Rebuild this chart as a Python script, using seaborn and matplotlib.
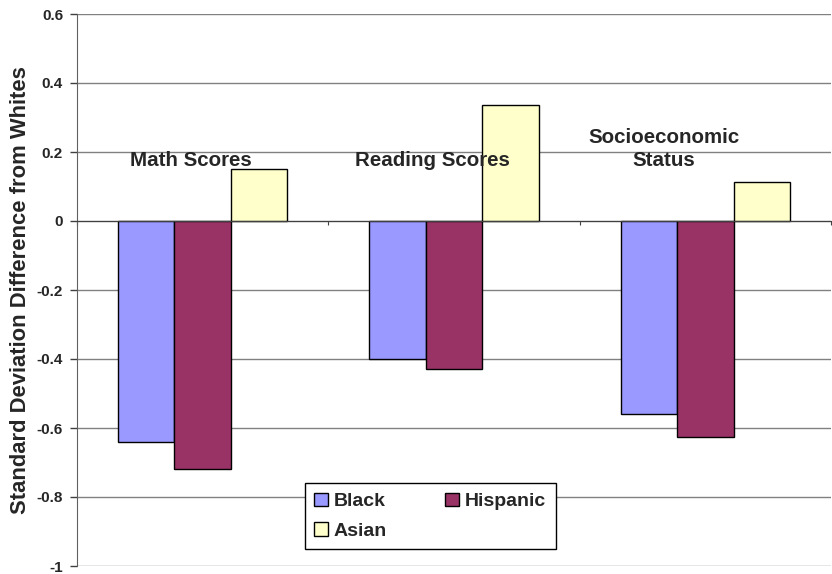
import pandas as pd
import matplotlib.pyplot as plt
import seaborn as sns

categories = ['Math Scores', 'Reading Scores', 'Socioeconomic\nStatus']
groups = ['Black', 'Hispanic', 'Asian']
black = [-0.64, -0.40, -0.56]
hispanic = [-0.72, -0.43, -0.625]
asian = [0.15, 0.335, 0.113]
yticks = [-1, -0.8, -0.6, -0.4, -0.2, 0, 0.2, 0.4, 0.6]
ytick_labels = ['-1', '-0.8', '-0.6', '-0.4', '-0.2', '0', '0.2', '0.4', '0.6']

rows = []
for i, c in enumerate(categories):
    rows.append((c, 'Black', black[i]))
    rows.append((c, 'Hispanic', hispanic[i]))
    rows.append((c, 'Asian', asian[i]))
df = pd.DataFrame(rows, columns=['category', 'group', 'value'])

sns.set_style('white')
plt.rcParams['font.family'] = ['Liberation Sans', 'DejaVu Sans']
plt.rcParams['font.weight'] = 'bold'

fig = plt.figure(figsize=(8.32, 5.74), dpi=100)
ax = fig.add_axes([77 / 832, 8 / 574, 754 / 832, 552 / 574])

sns.barplot(data=df, x='category', y='value', hue='group', order=categories,
            hue_order=groups, palette=['#9999FF', '#993366', '#FFFFCC'],
            saturation=1, width=0.675, edgecolor='black', linewidth=1,
            ax=ax, zorder=3)

ax.set_ylim(-1, 0.6)
ax.set_xlim(-0.5, 2.5)
ax.set_yticks(yticks)
ax.set_yticklabels(ytick_labels, fontsize=11, fontweight='bold')
ax.yaxis.grid(True, color='#808080', linewidth=1, zorder=0)
ax.set_axisbelow(True)
ax.tick_params(axis='y', direction='out', length=5, width=1, color='#404040', left=True, pad=5)

for s in ['top', 'right']:
    ax.spines[s].set_visible(False)
ax.spines['left'].set_color('#606060')
ax.spines['bottom'].set_position(('data', 0))
ax.spines['bottom'].set_color('#404040')
ax.spines['bottom'].set_zorder(4)
ax.set_xticks([-0.5, 0.5, 1.5, 2.5])
ax.set_xticklabels([])
ax.tick_params(axis='x', direction='out', length=3, color='#404040', bottom=True)
ax.set_xlabel('')
ax.set_ylabel('Standard Deviation Difference from Whites', fontsize=15.8,
              fontweight='bold', labelpad=4)

# category names sit inside the plot, above the zero line
label_x = [-0.045, 0.915, 1.836]
label_y = 0.159
line_step = 0.0666
for lx, c in zip(label_x, categories):
    lines = c.split('\n')
    for k, line in enumerate(reversed(lines)):
        ax.text(lx, label_y + k * line_step, line, ha='center', va='baseline',
                fontsize=14.8, fontweight='bold', zorder=5)

handles, labels = ax.get_legend_handles_labels()
order = [0, 2, 1]
ax.legend([handles[i] for i in order], [labels[i] for i in order], ncol=2,
          loc='center', bbox_to_anchor=(0.4685, 0.09),
          frameon=True, fancybox=False, framealpha=1, edgecolor='black',
          prop={'weight': 'bold', 'size': 14}, handlelength=0.7, handleheight=0.7,
          handletextpad=0.3, columnspacing=3.0, borderpad=0.5, labelspacing=0.6,
          borderaxespad=0)
ax.get_legend().get_frame().set_linewidth(1)

plt.savefig('out.png', dpi=100)
